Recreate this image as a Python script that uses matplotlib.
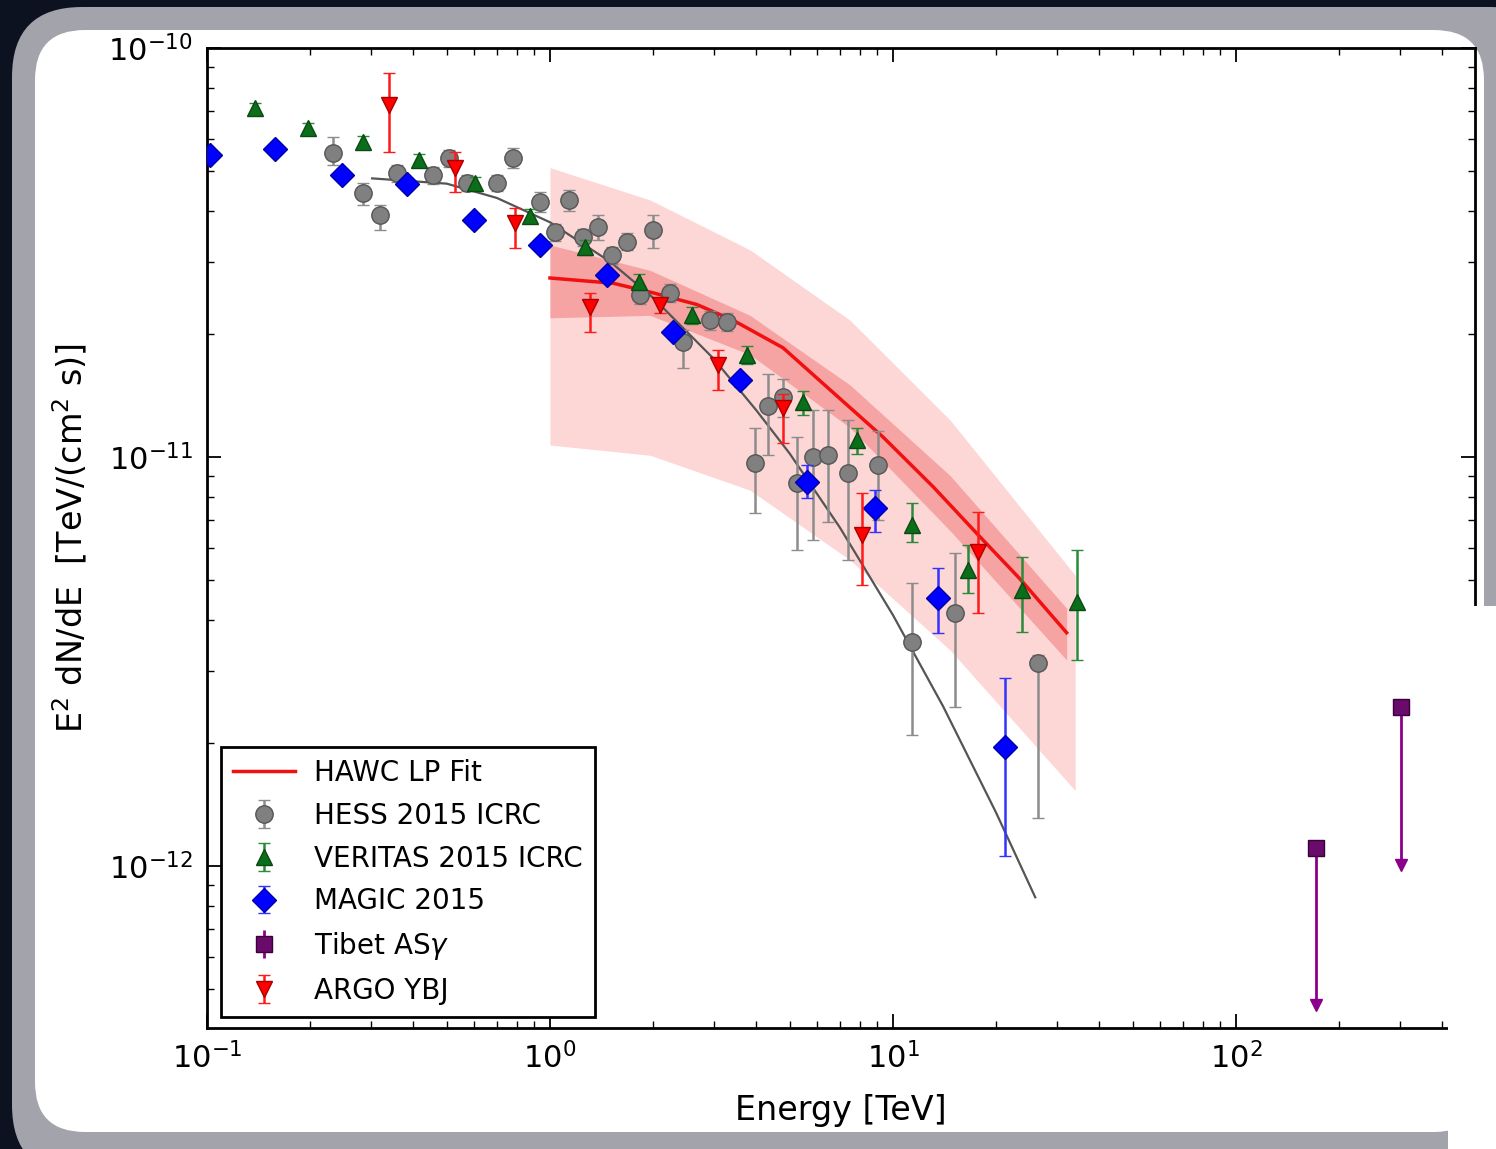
import numpy as np
import matplotlib
matplotlib.use('Agg')
import matplotlib.pyplot as plt
from matplotlib.patches import FancyBboxPatch, Rectangle

# ---------------- data (E in TeV, flux in units of 1e-11 TeV/(cm^2 s)) ----------------
hess_E = [0.233, 0.285, 0.319, 0.358, 0.456, 0.508, 0.573, 0.701, 0.780, 0.935, 1.034,
          1.136, 1.248, 1.380, 1.517, 1.677, 1.829, 1.996, 2.24, 2.44, 2.93, 3.28, 3.96,
          4.32, 4.78, 5.25, 5.85, 6.46, 7.39, 9.04, 11.36, 15.2, 26.5]
hess_F = [5.53, 4.42, 3.91, 4.95, 4.89, 5.38, 4.68, 4.68, 5.38, 4.20, 3.55, 4.25, 3.45,
          3.65, 3.12, 3.36, 2.49, 3.59, 2.52, 1.91, 2.16, 2.14, 0.967, 1.33, 1.40, 0.864,
          1.00, 1.01, 0.914, 0.956, 0.353, 0.416, 0.313]
hess_hi = [6.06, 4.68, 4.13, 5.18, 5.12, 5.63, 4.90, 4.90, 5.70, 4.45, 3.72, 4.50, 3.62,
           3.91, 3.27, 3.52, 2.62, 3.91, 2.65, 2.04, 2.27, 2.25, 1.18, 1.60, 1.55, 1.12,
           1.30, 1.30, 1.23, 1.16, 0.492, 0.583, 0.328]
hess_lo = [5.18, 4.13, 3.59, 4.70, 4.66, 5.12, 4.46, 4.46, 5.10, 3.98, 3.38, 4.00, 3.28,
           3.40, 2.97, 3.20, 2.37, 3.24, 2.40, 1.65, 2.05, 2.03, 0.730, 1.01, 1.25, 0.593,
           0.627, 0.693, 0.560, 0.702, 0.209, 0.245, 0.131]

ver_E = [0.138, 0.197, 0.285, 0.415, 0.604, 0.874, 1.265, 1.818, 2.59, 3.75, 5.47, 7.85,
         11.36, 16.55, 23.8, 34.4]
ver_F = [7.13, 6.37, 5.89, 5.32, 4.68, 3.88, 3.26, 2.68, 2.22, 1.78, 1.36, 1.10, 0.682,
         0.529, 0.473, 0.442]
ver_hi = [7.35, 6.57, 6.08, 5.52, 4.85, 4.03, 3.40, 2.80, 2.33, 1.87, 1.45, 1.18, 0.772,
          0.609, 0.569, 0.593]
ver_lo = [6.92, 6.18, 5.71, 5.13, 4.51, 3.74, 3.12, 2.56, 2.12, 1.69, 1.27, 1.02, 0.620,
          0.465, 0.373, 0.319]

mag_E = [0.102, 0.158, 0.2475, 0.383, 0.600, 0.935, 1.466, 2.28, 3.58, 5.61, 8.86, 13.5, 21.2]
mag_F = [5.47, 5.66, 4.89, 4.65, 3.80, 3.30, 2.79, 2.02, 1.54, 0.869, 0.750, 0.452, 0.195]
mag_hi = [5.60, 5.80, 5.05, 4.80, 3.92, 3.40, 2.88, 2.09, 1.60, 0.956, 0.830, 0.535, 0.288]
mag_lo = [5.34, 5.52, 4.74, 4.50, 3.68, 3.20, 2.70, 1.95, 1.48, 0.794, 0.655, 0.371, 0.106]

argo_E = [0.340, 0.528, 0.791, 1.308, 2.09, 3.09, 4.78, 8.12, 17.7]
argo_F = [7.26, 5.09, 3.73, 2.33, 2.35, 1.68, 1.32, 0.645, 0.586]
argo_hi = [8.69, 5.57, 4.06, 2.52, 2.45, 1.83, 1.43, 0.817, 0.734]
argo_lo = [5.57, 4.45, 3.24, 2.02, 2.25, 1.46, 1.08, 0.486, 0.416]

tibet_E = [171.0, 303.0]
tibet_F = [0.111, 0.245]
tibet_lim = [0.0457, 0.1005]

hawc_E = [1.0, 1.53, 2.0, 2.68, 3.42, 4.78, 6.68, 9.35, 13.1, 18.3, 23.4, 32.1]
hawc_F = [2.74, 2.66, 2.52, 2.36, 2.16, 1.85, 1.44, 1.12, 0.846, 0.627, 0.505, 0.372]

band_E = [1.0, 1.96, 3.83, 7.5, 14.7, 34.0]
sys_hi = [5.10, 4.25, 3.21, 2.16, 1.23, 0.514]
sys_lo = [1.07, 1.01, 0.830, 0.560, 0.337, 0.153]
stat_E = [1.0, 1.96, 3.83, 7.5, 14.7, 32.1]
stat_hi = [3.30, 2.86, 2.22, 1.50, 0.90, 0.427]
stat_lo = [2.19, 2.22, 1.78, 1.18, 0.66, 0.319]

hessfit_E = [0.303, 0.5, 0.7, 1.0, 1.5, 2.0, 3.0, 4.0, 5.0, 7.0, 10.0, 14.0, 20.0, 26.0]
hessfit_F = [4.80, 4.66, 4.30, 3.75, 3.00, 2.45, 1.74, 1.30, 1.02, 0.673, 0.411, 0.246,
             0.135, 0.0839]

x_ticks = [0.1, 1, 10, 100]
y_ticks = [1e-12, 1e-11, 1e-10]

UNIT = 1e-11


def arr(v):
    return np.array(v, dtype=float) * UNIT


# ---------------- figure & frame ----------------
W, H = 1496, 1149
fig = plt.figure(figsize=(W / 100, H / 100), dpi=100)
fig.patch.set_facecolor('#0d1220')


def box_in(x0, y0, x1, y1):
    return (x0 / 100, (H - y1) / 100), (x1 - x0) / 100, (y1 - y0) / 100


(xy, w, h) = box_in(12, 7, 1560, 1175)
fig.add_artist(FancyBboxPatch(xy, w, h, boxstyle='round,pad=0,rounding_size=0.7',
                              transform=fig.dpi_scale_trans, facecolor='#a3a3ab',
                              edgecolor='none', zorder=-6))
(xy, w, h) = box_in(35, 30, 1484, 1132)
fig.add_artist(FancyBboxPatch(xy, w, h, boxstyle='round,pad=0,rounding_size=0.5',
                              transform=fig.dpi_scale_trans, facecolor='white',
                              edgecolor='none', zorder=-5))

ax = fig.add_axes([207 / W, 1 - 1028 / H, (1475 - 207) / W, (1028 - 48) / H])
ax.set_facecolor('white')
ax.set_xscale('log')
ax.set_yscale('log')
ax.set_xlim(0.1, 498)
ax.set_ylim(4.02e-13, 1e-10)
ax.set_xticks(x_ticks)
ax.set_yticks(y_ticks)

# bands
ax.fill_between(band_E, arr(sys_lo), arr(sys_hi), color='#fdd6d6', lw=0, zorder=1)
ax.fill_between(stat_E, arr(stat_lo), arr(stat_hi), color='#f6a3a3', lw=0, zorder=1.5)

# fits
hawc_line, = ax.plot(hawc_E, arr(hawc_F), color='#f01010', lw=2.5, zorder=2,
                     label='HAWC LP Fit')
ax.plot(hessfit_E, arr(hessfit_F), color='#555555', lw=1.6, zorder=2.5)


def eb(E, F, lo, hi, **kw):
    F = arr(F)
    lo = arr(lo)
    hi = arr(hi)
    return ax.errorbar(E, F, yerr=[F - lo, hi - F], capsize=4, elinewidth=1.8,
                       capthick=1.5, **kw)


h_hess = eb(hess_E, hess_F, hess_lo, hess_hi, fmt='o', ms=12.5, mfc='#808080',
            mec='#555555', mew=1, ecolor='#8c8c8c', zorder=4, label='HESS 2015 ICRC')
h_ver = eb(ver_E, ver_F, ver_lo, ver_hi, fmt='^', ms=12, mfc='#0b6e1a', mec='#0a4a12',
           mew=1, ecolor='#2a8a3a', zorder=5, label='VERITAS 2015 ICRC')
h_mag = eb(mag_E, mag_F, mag_lo, mag_hi, fmt='D', ms=12, mfc='#0000ff', mec='#0000aa',
           mew=1, ecolor='#3333ff', zorder=6, label='MAGIC 2015')

tF = arr(tibet_F)
tL = arr(tibet_lim)
h_tib = ax.errorbar(tibet_E, tF, yerr=[tF - tL, np.zeros_like(tF)], fmt='s', ms=12,
                    mfc='#6a0a6a', mec='#3a003a', ecolor='#8b008b', elinewidth=2,
                    capsize=0, zorder=6, label='Tibet AS$\\gamma$')
ax.plot(tibet_E, tL, 'v', ms=9, color='#8b008b', mec='#8b008b', zorder=6)

h_argo = eb(argo_E, argo_F, argo_lo, argo_hi, fmt='v', ms=12, mfc='#ff0000',
            mec='#aa0000', mew=1, ecolor='#ff1a1a', zorder=7, label='ARGO YBJ')

# axes styling
for s in ax.spines.values():
    s.set_linewidth(2)
ax.tick_params(which='both', direction='in', top=True, right=True)
ax.tick_params(which='major', length=10, width=1.3, labelsize=22, pad=10)
ax.tick_params(which='minor', length=5, width=1)
ax.set_xlabel('Energy [TeV]', fontsize=24, labelpad=14)
ax.set_ylabel('E$^2$ dN/dE  [TeV/(cm$^2$ s)]', fontsize=24, labelpad=14)

leg = ax.legend(handles=[hawc_line, h_hess, h_ver, h_mag, h_tib, h_argo],
                loc='lower left', bbox_to_anchor=(0.011, 0.011), borderaxespad=0,
                fontsize=20, numpoints=1, fancybox=False, framealpha=1,
                edgecolor='black', labelspacing=0.53, handlelength=2.2,
                handletextpad=0.7, borderpad=0.45)
leg.get_frame().set_linewidth(2)
leg.set_zorder(20)

# overlapping white page at the lower right
(xy, w, h) = box_in(1448, 606, 1500, 1152)
fig.add_artist(Rectangle(xy, w, h, transform=fig.dpi_scale_trans, facecolor='white',
                         edgecolor='none', zorder=10))

fig.savefig('out.png', dpi=100, facecolor=fig.get_facecolor())
